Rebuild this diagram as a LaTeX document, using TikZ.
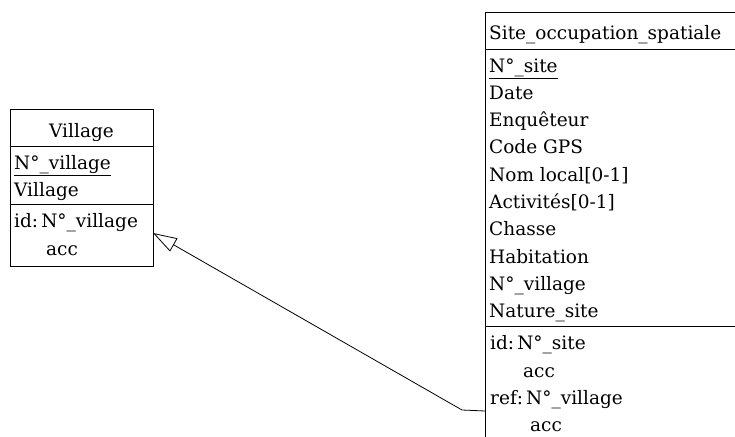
\documentclass[tikz,border=0pt]{standalone}
\usepackage{fontspec}
\setmainfont{DejaVu Serif}
\usetikzlibrary{arrows.meta}
\tikzset{
	entite/.style={draw, line width=1pt, anchor=north west, inner sep=0pt},
	attr/.style={anchor=base west, inner sep=0pt, font=\fontsize{18.5}{22}\selectfont},
	titre/.style={anchor=base, inner sep=0pt, font=\fontsize{18.5}{22}\selectfont},
	lien/.style={line width=0.8pt, -{Triangle[open, length=24pt, width=15pt]}}
}
\begin{document}
\begin{tikzpicture}[x=1pt,y=-1pt]
		\useasboundingbox (0,0) rectangle (735,436);
		% Village
		\node[entite, minimum width=143pt, minimum height=157pt] (village) at (10,109) {};
		\draw[line width=1pt] (10,146) to (153,146);
		\draw[line width=1pt] (10,204) to (153,204);
		\node[titre] (vtitre) at (81.5,137) {Village};
		\node[attr] (vnum) at (14,169) {\underline{N°\_village}};
		\node[attr] (vnom) at (14,196) {Village};
		\node[attr] (vid) at (14,227) {id:\,N°\_village};
		\node[attr] (vacc) at (46,255) {acc};
		
		% Site_occupation_spatiale
		\node[entite, minimum width=260pt, minimum height=440pt] (site) at (485,12) {};
		\draw[line width=1pt] (485,50) to (745,50);
		\draw[line width=1pt] (485,326) to (745,326);
		\node[attr] (stitre) at (489,40) {Site\_occupation\_spatiale};
		\node[attr] (s0) at (489,72) {\underline{N°\_site}};
		\foreach \a [count=\i] in {Date,Enquêteur,Code GPS,{Nom local[0-1]},{Activités[0-1]},Chasse,Habitation,N°\_village,Nature\_site}{
			\node[attr] (s\i) at (489,72+27.3*\i) {\a};}
		\node[attr] (sid) at (490,349) {id:\,N°\_site};
		\node[attr] (sacc) at (523,377) {acc};
		\node[attr] (sref) at (490,404) {ref:\,N°\_village};
		\node[attr] (sacc2) at (530,431) {acc};
		
		% lien ref -> id
		\coordinate (depart) at (485,411);
		\coordinate (coude) at (462,410);
		\coordinate (pointe) at (153,233);
		\draw[lien] (depart) to (coude) to (pointe);
		
	\end{tikzpicture}
\end{document}
